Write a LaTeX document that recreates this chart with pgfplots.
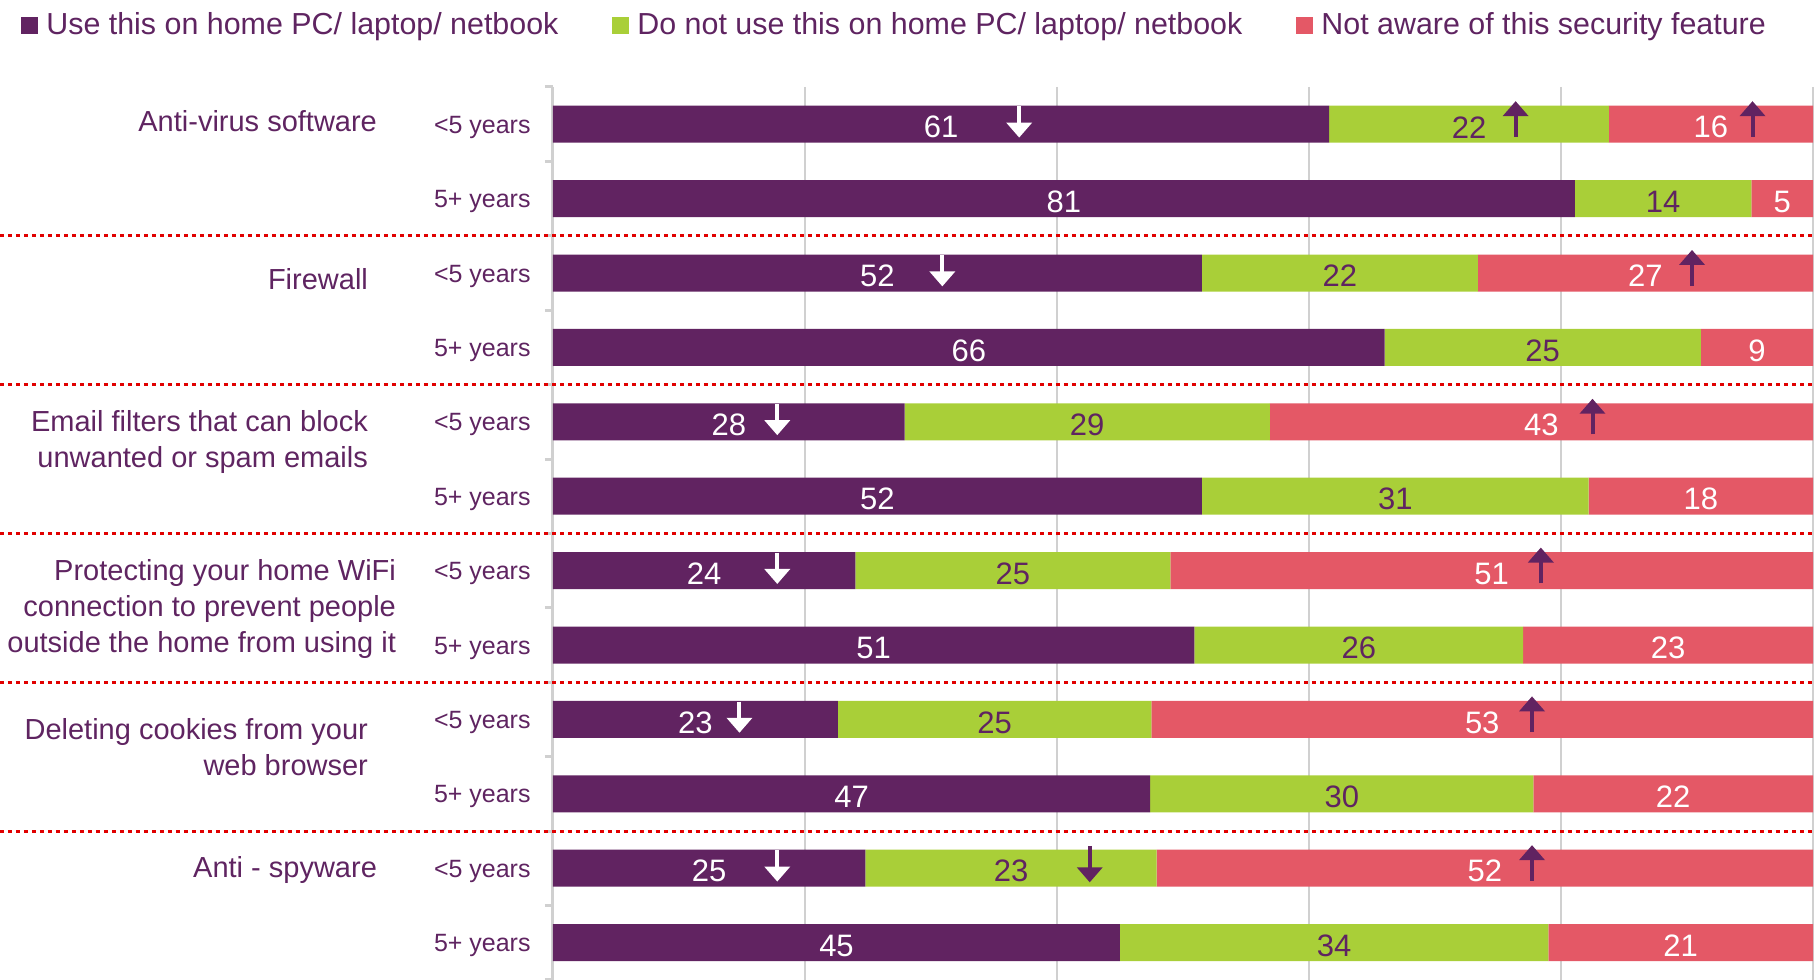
\documentclass[border=0pt]{standalone}
\usepackage{fontspec}
\setmainfont{Liberation Sans}
\usepackage{pgfplots}
\pgfplotsset{compat=1.18}
\usetikzlibrary{arrows.meta}
\definecolor{cpurple}{HTML}{612361}
\definecolor{cgreen}{HTML}{A9CF38}
\definecolor{cred}{HTML}{E45866}
\definecolor{ctext}{HTML}{5F2461}
\definecolor{cgrid}{HTML}{D0D0D0}
\definecolor{csep}{HTML}{E00000}

\pgfplotsset{
  frame/.style={at={(0,0)}, anchor=south west, x=6.3pt, y=37.2pt,
    xmin=0, xmax=100, ymin=0.5, ymax=12.5, y dir=reverse, clip=false},
  seglabel/.style={only marks, mark=none, nodes near coords, point meta=explicit symbolic,
    every node near coord/.style={anchor=center, yshift=-1.5pt,
      font=\fontsize{15.5}{18}\selectfont, text=#1}},
}
\tikzset{
  sig/.style={line width=2pt, -{Triangle[width=12.5pt,length=7.5pt]}},
  grp/.style={anchor=east, align=right, text=ctext, font=\fontsize{14.5}{18}\selectfont},
  sep/.style={csep, line width=1.5pt, dash pattern=on 2pt off 2pt},
}

\begin{document}
\begin{tikzpicture}
\begin{axis}[
  frame,
  xbar stacked, bar width=18.5pt,
  legend image code/.code={\fill[#1] (0pt,-4.25pt) rectangle (8.5pt,4.25pt);},
  axis y line*=left, axis x line*=bottom,
  x axis line style={draw=none},
  y axis line style={cgrid, line width=1.5pt},
  xtick={20,40,60,80,100}, xticklabel=\empty,
  xmajorgrids, major grid style={cgrid, line width=1.2pt},
  ytick={1,...,12},
  yticklabels={<5 years,5+ years,<5 years,5+ years,<5 years,5+ years,<5 years,5+ years,<5 years,5+ years,<5 years,5+ years},
  minor ytick={0.5,1.5,...,12.5},
  major tick length=0pt, minor tick length=4pt, tick align=outside,
  minor tick style={cgrid, line width=1.5pt},
  yticklabel style={font=\fontsize{12.5}{15}\selectfont, text=ctext, inner sep=0pt, xshift=-11pt, yshift=-1.5pt},
  legend columns=3,
  legend style={at={(axis description cs:-0.4222,1.0694)}, anchor=west, draw=none, fill=none,
    inner sep=0pt, font=\fontsize{15.2}{18}\selectfont,
    nodes={inner sep=0pt, text=ctext},
    /tikz/every odd column/.style={column sep=4pt},
    /tikz/every even column/.style={column sep=27pt}},
]
% use on home PC
\addplot[fill=cpurple, draw=none] coordinates {
  (61.6,1) (81.1,2) (51.5,3) (66.0,4) (27.9,5) (51.5,6)
  (24.0,7) (50.9,8) (22.6,9) (47.4,10) (24.8,11) (45.0,12)};
% do not use
\addplot[fill=cgreen, draw=none] coordinates {
  (22.2,1) (14.0,2) (21.9,3) (25.1,4) (29.0,5) (30.7,6)
  (25.0,7) (26.1,8) (24.9,9) (30.4,10) (23.1,11) (34.0,12)};
% not aware
\addplot[fill=cred, draw=none] coordinates {
  (16.2,1) (4.9,2) (26.6,3) (8.9,4) (43.1,5) (17.8,6)
  (51.0,7) (23.0,8) (52.5,9) (22.2,10) (52.1,11) (21.0,12)};
\legend{Use this on home PC/ laptop/ netbook, Do not use this on home PC/ laptop/ netbook, Not aware of this security feature}
\end{axis}

% overlay axis: value labels, arrows, separators, group names
\begin{axis}[frame, hide axis]
\addplot[seglabel=white] coordinates {
  (30.8,1)[61] (40.55,2)[81] (25.75,3)[52] (33.0,4)[66] (13.95,5)[28] (25.75,6)[52]
  (12.0,7)[24] (25.45,8)[51] (11.3,9)[23] (23.7,10)[47] (12.4,11)[25] (22.5,12)[45]};
\addplot[seglabel=ctext] coordinates {
  (72.7,1)[22] (88.1,2)[14] (62.45,3)[22] (78.55,4)[25] (42.4,5)[29] (66.85,6)[31]
  (36.5,7)[25] (63.95,8)[26] (35.05,9)[25] (62.6,10)[30] (36.35,11)[23] (62.0,12)[34]};
\addplot[seglabel=white] coordinates {
  (91.9,1)[16] (97.55,2)[5] (86.7,3)[27] (95.55,4)[9] (78.45,5)[43] (91.1,6)[18]
  (74.5,7)[51] (88.5,8)[23] (73.75,9)[53] (88.9,10)[22] (73.95,11)[52] (89.5,12)[21]};

% significance arrows (down = lower than 5+ years, up = higher)
\draw[sig, white] (axis cs:37.0,0.76) -- (axis cs:37.0,1.18);
\draw[sig, white] (axis cs:30.9,2.76) -- (axis cs:30.9,3.18);
\draw[sig, white] (axis cs:17.8,4.76) -- (axis cs:17.8,5.18);
\draw[sig, white] (axis cs:17.8,6.76) -- (axis cs:17.8,7.18);
\draw[sig, white] (axis cs:14.8,8.76) -- (axis cs:14.8,9.18);
\draw[sig, white] (axis cs:17.8,10.76) -- (axis cs:17.8,11.18);
\draw[sig, cpurple] (axis cs:42.6,10.70) -- (axis cs:42.6,11.19);
\draw[sig, cpurple] (axis cs:76.4,1.17) -- (axis cs:76.4,0.69);
\draw[sig, cpurple] (axis cs:95.2,1.17) -- (axis cs:95.2,0.69);
\draw[sig, cpurple] (axis cs:90.4,3.17) -- (axis cs:90.4,2.69);
\draw[sig, cpurple] (axis cs:82.5,5.17) -- (axis cs:82.5,4.69);
\draw[sig, cpurple] (axis cs:78.4,7.17) -- (axis cs:78.4,6.69);
\draw[sig, cpurple] (axis cs:77.7,9.17) -- (axis cs:77.7,8.69);
\draw[sig, cpurple] (axis cs:77.7,11.17) -- (axis cs:77.7,10.69);

% group separators
\draw[sep] ([xshift=-276.5pt]axis cs:0,2.5) -- ([xshift=1.5pt]axis cs:100,2.5);
\draw[sep] ([xshift=-276.5pt]axis cs:0,4.5) -- ([xshift=1.5pt]axis cs:100,4.5);
\draw[sep] ([xshift=-276.5pt]axis cs:0,6.5) -- ([xshift=1.5pt]axis cs:100,6.5);
\draw[sep] ([xshift=-276.5pt]axis cs:0,8.5) -- ([xshift=1.5pt]axis cs:100,8.5);
\draw[sep] ([xshift=-276.5pt]axis cs:0,10.5) -- ([xshift=1.5pt]axis cs:100,10.5);

% group labels
\node[grp] at ([xshift=-84.5pt]axis cs:0,0.96) {Anti-virus software};
\node[grp] at ([xshift=-89pt]axis cs:0,3.08) {Firewall};
\node[grp] at ([xshift=-89pt]axis cs:0,5.27) {Email filters that can block\\unwanted or spam emails};
\node[grp] at ([xshift=-75pt]axis cs:0,7.51) {Protecting your home WiFi\\connection to prevent people\\outside the home from using it};
\node[grp] at ([xshift=-89pt]axis cs:0,9.37) {Deleting cookies from your\\web browser};
\node[grp] at ([xshift=-84.5pt]axis cs:0,11.03) {Anti - spyware};
\end{axis}
\pgfresetboundingbox
\path (-276.5pt,0pt) rectangle (631.5pt,489.9pt);
\end{tikzpicture}
\end{document}
